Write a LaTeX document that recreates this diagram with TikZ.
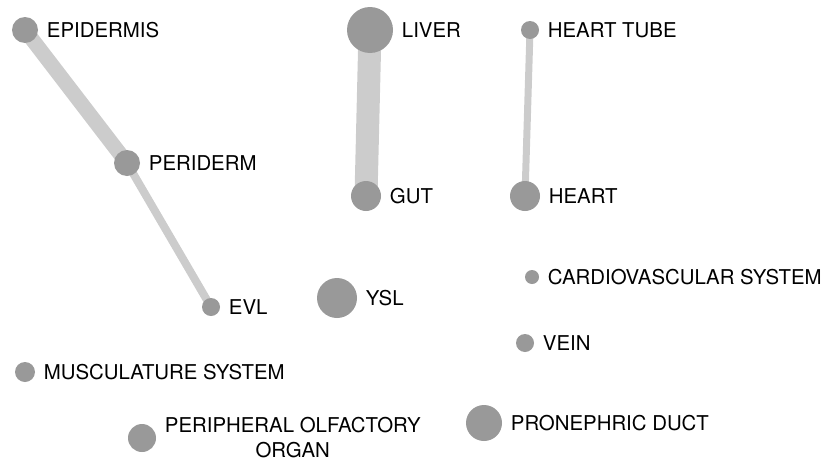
\documentclass[tikz,border=0pt]{standalone}
\usepackage{fontspec}
\setmainfont{TeX Gyre Heros}
\usetikzlibrary{backgrounds}
\definecolor{dotgray}{HTML}{999999}
\definecolor{edgegray}{HTML}{CCCCCC}

\begin{document}
\begin{tikzpicture}[x=1pt,y=-1pt,
  dot/.style={circle,fill=dotgray,inner sep=0pt,minimum size=#1},
  lbl/.style={inner sep=0pt,label distance=8.5pt,font=\fontsize{20.4}{25}\selectfont},
  edge/.style={draw=edgegray,line cap=butt}]
\useasboundingbox (0,0) rectangle (834,463);
% terms
\node[dot=26pt,label={[lbl]right:EPIDERMIS}] (epidermis) at (25,30) {};
\node[dot=26pt,label={[lbl]right:PERIDERM}] (periderm) at (127,163) {};
\node[dot=18pt,label={[lbl]right:EVL}] (evl) at (211,307) {};
\node[dot=46pt,label={[lbl]right:LIVER}] (liver) at (370,30) {};
\node[dot=30pt,label={[lbl]right:GUT}] (gut) at (366,196) {};
\node[dot=18pt,label={[lbl]right:HEART TUBE}] (hearttube) at (530,30) {};
\node[dot=30pt,label={[lbl]right:HEART}] (heart) at (525,196) {};
\node[dot=40pt,label={[lbl]right:YSL}] (ysl) at (337,298) {};
\node[dot=14pt,label={[lbl]right:CARDIOVASCULAR SYSTEM}] (cardio) at (532,277) {};
\node[dot=18pt,label={[lbl]right:VEIN}] (vein) at (525,343) {};
\node[dot=20pt,label={[lbl]right:MUSCULATURE SYSTEM}] (muscle) at (25,372) {};
\node[dot=28pt,label={[lbl,align=center]right:PERIPHERAL OLFACTORY\\ORGAN}] (olfactory) at (142,438) {};
\node[dot=36pt,label={[lbl]right:PRONEPHRIC DUCT}] (pronephric) at (484,423) {};
% links
\begin{scope}[on background layer]
\draw[edge,line width=15pt] (epidermis.center) -- (periderm.center);
\draw[edge,line width=8pt] (periderm.center) -- (evl.center);
\draw[edge,line width=23pt] (liver.center) -- (gut.center);
\draw[edge,line width=7pt] (hearttube.center) -- (heart.center);
\end{scope}
\end{tikzpicture}
\end{document}
